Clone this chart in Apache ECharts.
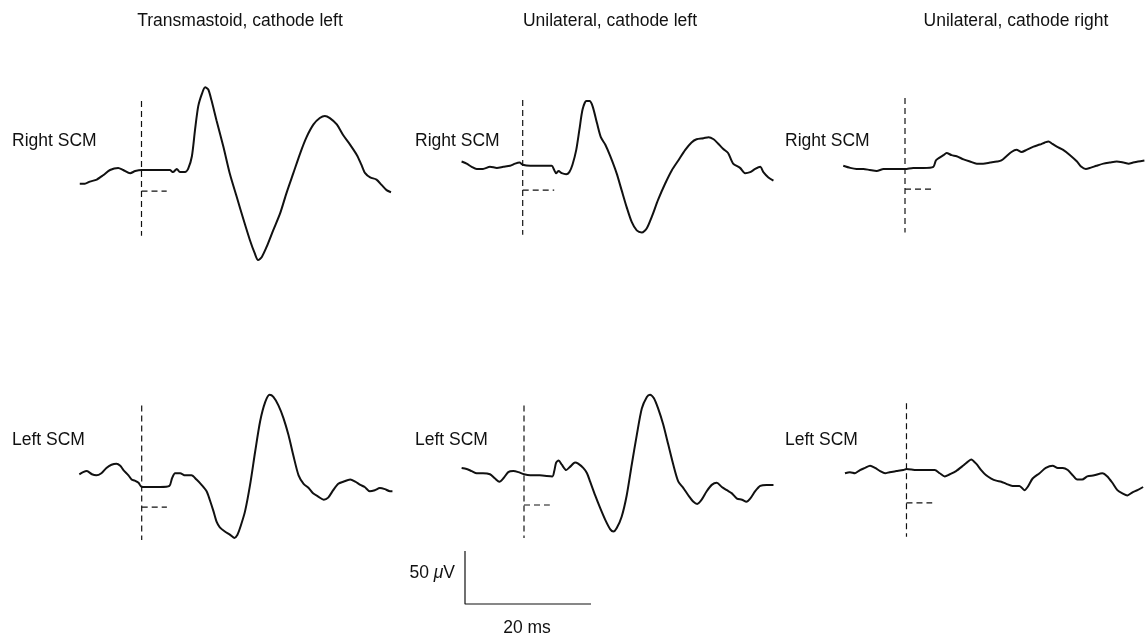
<!DOCTYPE html>
<html>
<head>
<meta charset="utf-8">
<title>SCM responses</title>
<script src="https://cdn.jsdelivr.net/npm/echarts@6/dist/echarts.min.js"></script>
<style>
    html, body {margin: 0; padding: 0; background: #fff;}
    #chart {width: 1145px; height: 635px;}
</style>
</head>
<body>
<div id="chart"></div>
<script>
// column headings and row names
var columnTitles = ['Transmastoid, cathode left', 'Unilateral, cathode left', 'Unilateral, cathode right'];
var rowNames = ['Right SCM', 'Left SCM'];

// traces: [time ms, amplitude uV], stimulus at 0 ms
var rightTransmastoid = [[-9.8,-13],[-9,-13],[-8.2,-11],[-7.1,-9],[-6.1,-5],[-5,0],[-3.7,2],[-2.9,0],[-1.8,-3],[-1,-1],[0,0],[4.5,0],[5,-2],[5.6,1],[6.1,-2],[6.9,-2],[7.4,1],[8,13],[8.5,38],[9,60],[9.6,72],[10.1,78],[10.6,76],[11.1,66],[11.9,47],[13,22],[14,-3],[15.1,-25],[16.2,-47],[17.2,-66],[18,-79],[18.5,-85],[19.1,-82],[19.9,-72],[20.9,-57],[22,-41],[23,-22],[24.1,-3],[25.2,16],[26.2,31],[27.3,43],[28.3,49],[29.1,51],[29.9,49],[31,43],[32,33],[33.1,24],[34.2,14],[34.9,5],[35.5,-3],[36.3,-7],[37.3,-9],[38.1,-14],[38.9,-19],[39.6,-21]];
var rightUniLeft = [[-9.7,8],[-8.9,6],[-8.1,3],[-7.3,1],[-6.3,1],[-5.2,3],[-4.1,2],[-3.1,3],[-2,4],[-1.2,6],[-0.5,7],[0,5],[1.2,4],[2.8,4],[4.6,4],[5,0],[5.3,-3],[5.7,-1],[6.2,-3],[6.9,-4],[7.4,-2],[7.9,5],[8.5,19],[9,38],[9.5,57],[10.1,65],[10.6,65],[11.1,60],[11.8,44],[12.4,31],[13.1,24],[13.9,13],[14.9,-3],[15.7,-19],[16.5,-35],[17.3,-49],[18.1,-57],[18.9,-59],[19.7,-55],[20.5,-44],[21.5,-28],[22.6,-13],[23.7,0],[24.7,9],[25.8,19],[26.8,26],[27.6,29],[28.7,30],[29.5,31],[30.3,29],[31,25],[31.8,20],[32.6,16],[33.4,6],[34.5,2],[35.3,-3],[36.1,-2],[36.9,1],[37.7,3],[38.2,-2],[39,-7],[39.8,-10]];
var rightUniRight = [[-9.8,4],[-8.7,2],[-7.7,1],[-6.6,1],[-5.6,0],[-4.5,-1],[-3.4,1],[-2.4,1],[-1.3,1],[-0.5,1],[0,1],[1.3,2],[2.9,2],[4.5,3],[4.9,9],[5.3,11],[6.1,14],[6.6,16],[7.4,14],[8.2,13],[9.3,10],[10.3,8],[11.4,6],[12.4,6],[13.5,7],[14.6,8],[15.3,9],[16.1,13],[16.9,17],[17.7,19],[18.5,17],[19.3,19],[20.4,22],[21.4,24],[22.2,26],[22.8,27],[23.3,25],[24.1,22],[25.1,19],[26.2,14],[27.3,8],[28,3],[28.7,1],[29.4,2],[30.4,4],[31.5,6],[32.5,7],[33.6,8],[34.7,7],[35.5,6],[36.2,7],[37,8],[38,9]];
var leftTransmastoid = [[-9.9,12],[-9.3,14],[-8.7,15],[-7.9,12],[-7.2,11],[-6.4,13],[-5.6,18],[-4.8,21],[-4,22],[-3.4,20],[-2.9,16],[-2.1,11],[-1.6,7],[-1.1,6],[-0.5,4],[0,0],[1.3,0],[2.9,0],[4.4,1],[4.8,8],[5.3,13],[6.1,13],[6.9,11],[7.9,11],[8.7,7],[9.5,2],[10.3,-4],[10.8,-12],[11.4,-23],[11.9,-33],[12.4,-38],[13.2,-42],[14,-45],[14.7,-48],[15.2,-45],[15.7,-37],[16.4,-23],[17.2,2],[18,33],[18.8,62],[19.6,80],[20.3,87],[20.9,85],[21.7,77],[22.5,65],[23.3,49],[24.1,29],[24.9,11],[25.7,3],[26.5,-1],[27.2,-6],[28,-9],[28.9,-12],[29.6,-10],[30.4,-3],[31.2,3],[32,5],[33.1,7],[33.9,5],[34.7,2],[35.4,0],[36.2,-4],[37,-3],[37.8,-1],[38.6,-2],[39.4,-4],[39.8,-4]];
var leftUniLeft = [[-9.9,18],[-9.1,17],[-8.3,15],[-7.5,13],[-6.5,13],[-5.4,12],[-4.6,8],[-3.9,5],[-3.3,8],[-2.5,14],[-1.7,15],[-0.9,14],[0,12],[1,11],[2.5,11],[4.5,10],[4.8,15],[5.1,23],[5.5,25],[6,21],[6.7,16],[7.3,19],[8.1,23],[8.6,22],[9.4,18],[10,13],[10.5,5],[11.3,-8],[12.1,-20],[12.9,-31],[13.7,-40],[14.2,-42],[14.7,-39],[15.5,-28],[16.3,-8],[17.1,21],[17.9,49],[18.7,74],[19.5,85],[20,87],[20.6,84],[21.3,74],[22.1,59],[22.9,40],[23.7,21],[24.5,5],[25.3,-1],[26.1,-8],[26.9,-14],[27.5,-16],[28.2,-12],[29,-4],[29.8,2],[30.6,4],[31.4,0],[32.2,-3],[33,-6],[33.8,-11],[34.6,-12],[35.3,-14],[35.9,-11],[36.7,-4],[37.5,1],[38.5,2],[39.6,2]];
var leftUniRight = [[-9.8,13],[-9,14],[-8.2,13],[-7.4,16],[-6.6,18],[-5.8,20],[-5,18],[-4.2,15],[-3.4,13],[-2.7,14],[-1.6,15],[-0.5,16],[0,17],[1.6,16],[3.2,16],[4.5,16],[5.3,13],[6.1,10],[6.9,12],[7.9,15],[9,20],[9.6,23],[10.3,26],[11.1,22],[11.9,16],[12.7,11],[13.5,8],[14.3,6],[15.1,5],[15.9,3],[16.9,1],[18,1],[18.8,-3],[19.3,0],[20.1,8],[21.2,13],[22.2,18],[23.3,20],[24.1,18],[24.9,18],[25.7,16],[26.5,11],[27.2,7],[28,7],[28.8,10],[29.9,11],[31.2,13],[32,10],[32.8,4],[33.6,-3],[34.4,-6],[35.2,-8],[36,-5],[36.8,-3],[37.7,0]];

// stimulus marker: top and bottom of the dashed line (uV)
var stimTop = [65, 66, 68, 77, 77, 79];
var stimBottom = [-62, -61, -59, -50, -48, -47];
// latency marker: level (uV) and end time (ms)
var latLevel = [-20, -19, -18, -19, -17, -15];
var latEnd = [4.0, 5.0, 4.2, 4.0, 4.1, 4.1];

// calibration bar
var calMs = 20;
var calUv = 50;

var traces = [rightTransmastoid, rightUniLeft, rightUniRight, leftTransmastoid, leftUniLeft, leftUniRight];

// time window per column (the right column is cut at the page edge)
var tMin = -10;
var tMax = [40, 40, 38];

// panel layout: 6.3 px per ms, 1.06 px per uV
var pxPerMs = 6.3;
var panelLeft = [78.5, 459.7, 842, 78.7, 461, 843.7];
var rowTop = [64, 381];

var chart = echarts.init(document.getElementById('chart'));

var grids = [], xAxes = [], yAxes = [], series = [];

for (var i = 0; i < 6; i++) {
    var col = i % 3;
    grids.push({left: panelLeft[i], top: rowTop[Math.floor(i / 3)], width: (tMax[col] - tMin) * pxPerMs, height: 212});
    xAxes.push({type: 'value', gridIndex: i, min: tMin, max: tMax[col], show: false});
    yAxes.push({type: 'value', gridIndex: i, min: -100, max: 100, show: false});
    series.push({
        type: 'line', xAxisIndex: i, yAxisIndex: i,
        data: traces[i],
        smooth: 0.25,
        showSymbol: false,
        clip: false,
        lineStyle: {color: '#111', width: 2}
    });
    series.push({
        type: 'line', xAxisIndex: i, yAxisIndex: i,
        data: [[0, stimTop[i]], [0, stimBottom[i]]],
        showSymbol: false,
        clip: false,
        lineStyle: {color: '#111', width: 1.2, type: [6, 4]}
    });
    series.push({
        type: 'line', xAxisIndex: i, yAxisIndex: i,
        data: [[0, latLevel[i]], [latEnd[i], latLevel[i]]],
        showSymbol: false,
        clip: false,
        lineStyle: {color: '#111', width: 1.2, type: [6, 4]}
    });
}

// calibration bar grid
grids.push({left: 465, top: 551, width: 126, height: 53});
xAxes.push({type: 'value', gridIndex: 6, min: 0, max: calMs, show: false});
yAxes.push({type: 'value', gridIndex: 6, min: 0, max: calUv, show: false});
series.push({
    type: 'line', xAxisIndex: 6, yAxisIndex: 6,
    data: [[0, calUv], [0, 0], [calMs, 0]],
    showSymbol: false,
    clip: false,
    lineStyle: {color: '#111', width: 1.2}
});

var font = '17.5px "Liberation Sans", Arial, sans-serif';
var texts = [];
var titleX = [240, 610, 1016];
var labelX = [12, 415, 785];
for (var c = 0; c < 3; c++) {
    texts.push({type: 'text', style: {text: columnTitles[c], x: titleX[c], y: 21, font: font, fill: '#111', align: 'center', verticalAlign: 'middle'}});
    texts.push({type: 'text', style: {text: rowNames[0], x: labelX[c], y: 141, font: font, fill: '#111', align: 'left', verticalAlign: 'middle'}});
    texts.push({type: 'text', style: {text: rowNames[1], x: labelX[c], y: 440, font: font, fill: '#111', align: 'left', verticalAlign: 'middle'}});
}
texts.push({type: 'text', style: {
    text: calUv + ' {mu|\u03bc}V', x: 455, y: 573, font: font, fill: '#111', align: 'right', verticalAlign: 'middle',
    rich: {mu: {fontStyle: 'italic', fontSize: 17.5, fontFamily: 'Liberation Sans', fill: '#111'}}
}});
texts.push({type: 'text', style: {text: calMs + ' ms', x: 527, y: 628, font: font, fill: '#111', align: 'center', verticalAlign: 'middle'}});

chart.setOption({
    animation: false,
    backgroundColor: '#fff',
    grid: grids,
    xAxis: xAxes,
    yAxis: yAxes,
    series: series,
    graphic: texts
});
</script>
</body>
</html>
